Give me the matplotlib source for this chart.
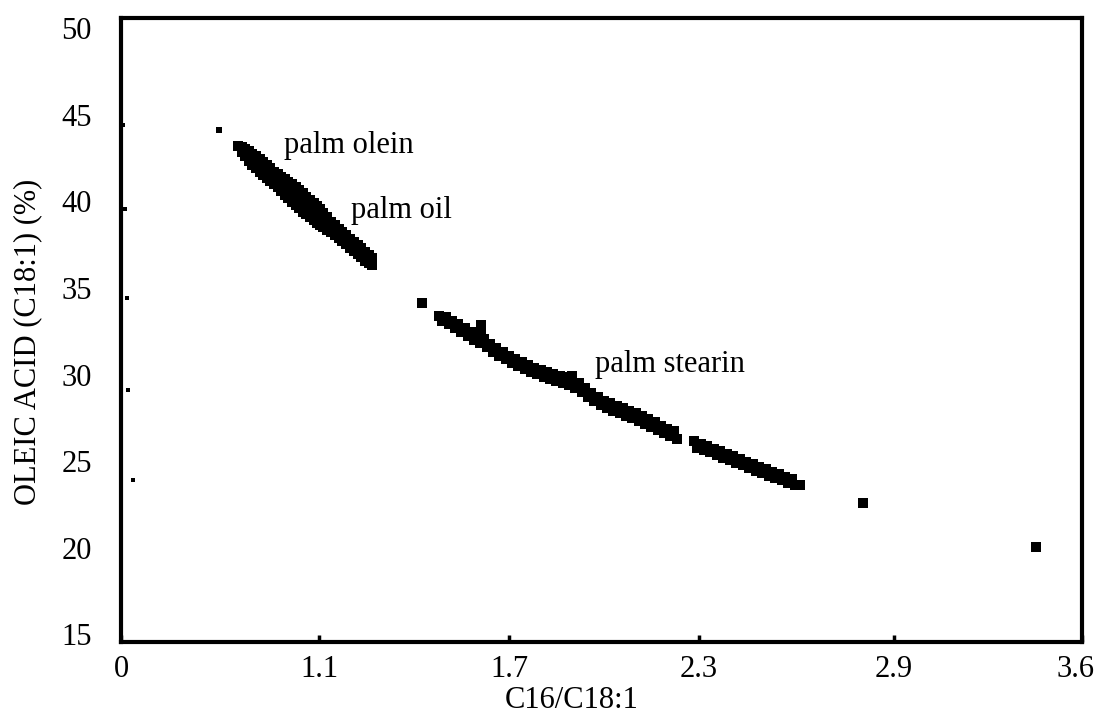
import numpy as np
import matplotlib
matplotlib.use("Agg")
import matplotlib.pyplot as plt
import matplotlib.transforms as mtransforms

plt.rcParams['font.family'] = ['Liberation Serif', 'DejaVu Serif']

# ---- data ----
x_tick_values = [0, 1.1, 1.7, 2.3, 2.9, 3.6]
x_tick_labels = ["0", "1.1", "1.7", "2.3", "2.9", "3.6"]
y_tick_values = [15, 20, 25, 30, 35, 40, 45, 50]

olein_x = [0.544, 0.65,
           0.67, 0.67, 0.69, 0.69, 0.71, 0.71, 0.73, 0.73, 0.75, 0.75,
           0.77, 0.77, 0.79, 0.79, 0.81, 0.81, 0.83, 0.83, 0.85, 0.85,
           0.87, 0.87, 0.89, 0.89, 0.91, 0.91, 0.93, 0.93, 0.95, 0.95,
           0.97, 0.97, 0.99, 0.99, 1.01, 1.01, 1.03, 1.03, 1.05, 1.05,
           1.07, 1.07, 1.09, 1.09,
           1.102, 1.102, 1.114, 1.114, 1.126, 1.126, 1.138, 1.138,
           1.150, 1.150, 1.162, 1.162, 1.174, 1.174, 1.186, 1.186,
           1.198, 1.198, 1.210, 1.210, 1.222, 1.222, 1.234, 1.234,
           1.246, 1.246, 1.258, 1.258, 1.266, 1.266,
           0.70, 0.72, 0.74, 0.76, 0.78, 0.80, 0.82, 0.84, 0.86, 0.88,
           0.90, 0.92, 0.94, 0.96, 0.98, 1.00, 1.02, 1.04, 1.06, 1.08,
           1.10, 1.12, 1.14, 1.16, 1.18, 1.20, 1.22, 1.24]
olein_y = [44.13, 43.20,
           43.12, 42.85, 43.02, 42.60, 42.90, 42.35, 42.75, 42.13, 42.62, 41.95,
           42.45, 41.72, 42.28, 41.55, 42.12, 41.33, 41.95, 41.18, 41.72, 41.02,
           41.58, 40.85, 41.40, 40.62, 41.30, 40.40, 41.12, 40.20, 41.00, 39.98,
           40.83, 39.80, 40.65, 39.62, 40.48, 39.42, 40.28, 39.28, 40.10, 39.10,
           39.92, 38.92, 39.72, 38.76,
           39.55, 38.66, 39.32, 38.52, 39.08, 38.38, 38.84, 38.24,
           38.64, 38.08, 38.43, 37.91, 38.24, 37.72, 38.05, 37.53,
           37.86, 37.34, 37.66, 37.15, 37.48, 36.96, 37.29, 36.77,
           37.10, 36.58, 36.90, 36.42, 36.72, 36.33,
           42.71, 42.54, 42.36, 42.18, 42.00, 41.82, 41.65, 41.47, 41.29, 41.11,
           40.93, 40.75, 40.58, 40.40, 40.22, 40.04, 39.86, 39.68, 39.51, 39.33,
           39.14, 38.83, 38.51, 38.20, 37.88, 37.57, 37.25, 36.94]

stearin_x = [1.48, 1.50, 1.52, 1.54, 1.56, 1.58, 1.60, 1.62, 1.64, 1.66,
             1.68, 1.70, 1.72, 1.74, 1.76, 1.78, 1.80, 1.82, 1.84, 1.86,
             1.88, 1.90, 1.92, 1.94, 1.96, 1.98, 2.00, 2.02, 2.04, 2.06,
             2.08, 2.10, 2.12, 2.14, 2.16, 2.18, 2.20, 2.22,
             2.285, 2.305, 2.325, 2.345, 2.365, 2.385, 2.405, 2.425, 2.445,
             2.465, 2.485, 2.505, 2.525, 2.545, 2.565, 2.585,
             1.49, 1.51, 1.53, 1.55, 1.57, 1.59, 1.61, 1.63, 1.65, 1.67,
             1.69, 1.71, 1.73, 1.75, 1.77, 1.79, 1.81, 1.83, 1.85, 1.87,
             1.89, 1.91, 1.93, 1.95, 1.97, 1.99, 2.01, 2.03, 2.05, 2.07,
             2.09, 2.11, 2.13, 2.15, 2.17, 2.19, 2.21, 2.23,
             2.295, 2.315, 2.335, 2.355, 2.375, 2.395, 2.415, 2.435, 2.455,
             2.475, 2.495, 2.515, 2.535, 2.555, 2.575, 2.595, 2.610,
             1.612, 1.612, 1.90]
stearin_y = [33.40, 33.30, 33.12, 32.90, 32.68, 32.45, 32.25, 32.05, 31.78, 31.52,
             31.30, 31.10, 30.90, 30.72, 30.56, 30.40, 30.28, 30.15, 30.02, 29.92,
             29.85, 29.70, 29.50, 29.22, 28.95, 28.68, 28.50, 28.35, 28.20, 28.05,
             27.90, 27.76, 27.60, 27.42, 27.25, 27.05, 26.88, 26.72,
             26.15, 26.00, 25.86, 25.72, 25.58, 25.42, 25.28, 25.12, 24.97,
             24.82, 24.66, 24.52, 24.38, 24.26, 24.10, 23.95,
             33.08, 32.90, 32.70, 32.46, 32.22, 32.02, 31.82, 31.58, 31.30, 31.08,
             30.88, 30.66, 30.48, 30.32, 30.16, 30.02, 29.88, 29.75, 29.62, 29.50,
             29.38, 29.22, 29.02, 28.72, 28.46, 28.22, 28.06, 27.92, 27.78, 27.62,
             27.48, 27.34, 27.16, 26.98, 26.80, 26.62, 26.45, 26.28,
             25.78, 25.64, 25.50, 25.36, 25.20, 25.06, 24.90, 24.76, 24.60,
             24.45, 24.30, 24.16, 24.02, 23.90, 23.76, 23.62, 23.60,
             32.85, 32.55, 29.90]

single_x = [1.425, 2.805, 3.43]
single_y = [34.15, 22.60, 20.06]

stray_x = [0.011, 0.022, 0.033, 0.040, 0.067]
stray_y = [44.42, 39.57, 34.43, 29.12, 23.93]

labels = ["palm olein", "palm oil", "palm stearin"]
label_x = [0.905, 1.200, 1.972]
label_y = [42.81, 39.05, 30.16]

# ---- figure ----
fig = plt.figure(figsize=(10.97, 7.22), dpi=100)
ax = fig.add_axes([0.1103, 0.1108, 0.876, 0.8643])

# irregular printed x axis (tick labels evenly spaced)
tick_pos = [121, 319, 509, 699, 894, 1082]
fwd = lambda v: np.interp(v, x_tick_values, tick_pos)
inv = lambda p: np.interp(p, tick_pos, x_tick_values)
ax.set_xscale('function', functions=(fwd, inv))

ax.scatter(olein_x[1:], olein_y[1:], marker='s', s=46, c='black', linewidths=0)
ax.scatter(olein_x[:1], olein_y[:1], marker='s', s=16, c='black', linewidths=0)
ax.scatter(stearin_x, stearin_y, marker='s', s=46, c='black', linewidths=0)
ax.scatter(single_x, single_y, marker='s', s=46, c='black', linewidths=0)
ax.scatter(stray_x, stray_y, marker='s', s=8, c='black', linewidths=0)

for t, lx, ly in zip(labels, label_x, label_y):
    ax.text(lx, ly, t, fontsize=22, ha='left', va='baseline', color='black')

ax.set_xlim(0, 3.6)
ax.set_ylim(14.55, 50.6)
ax.set_xticks(x_tick_values)
ax.set_xticklabels(x_tick_labels)
ax.set_yticks(y_tick_values)
ax.xaxis.set_minor_locator(matplotlib.ticker.NullLocator())

ax.tick_params(axis='x', direction='in', length=5, width=2.5, pad=9, labelsize=22)
ax.tick_params(axis='y', length=0, pad=21, labelsize=22)

# keep the last x tick label inside the canvas
last = ax.get_xticklabels()[-1]
last.set_transform(last.get_transform() +
                   mtransforms.ScaledTranslation(-6 / 100, 0, fig.dpi_scale_trans))

for sp in ax.spines.values():
    sp.set_linewidth(3)
    sp.set_color('black')

fig.text(0.0255, 0.526, "OLEIC ACID (C18:1) (%)", rotation=90, fontsize=22,
         ha='center', va='center')
fig.text(0.521, 0.030, "C16/C18:1", fontsize=22, ha='center', va='center')

fig.savefig("out.png", dpi=100, facecolor='white')
